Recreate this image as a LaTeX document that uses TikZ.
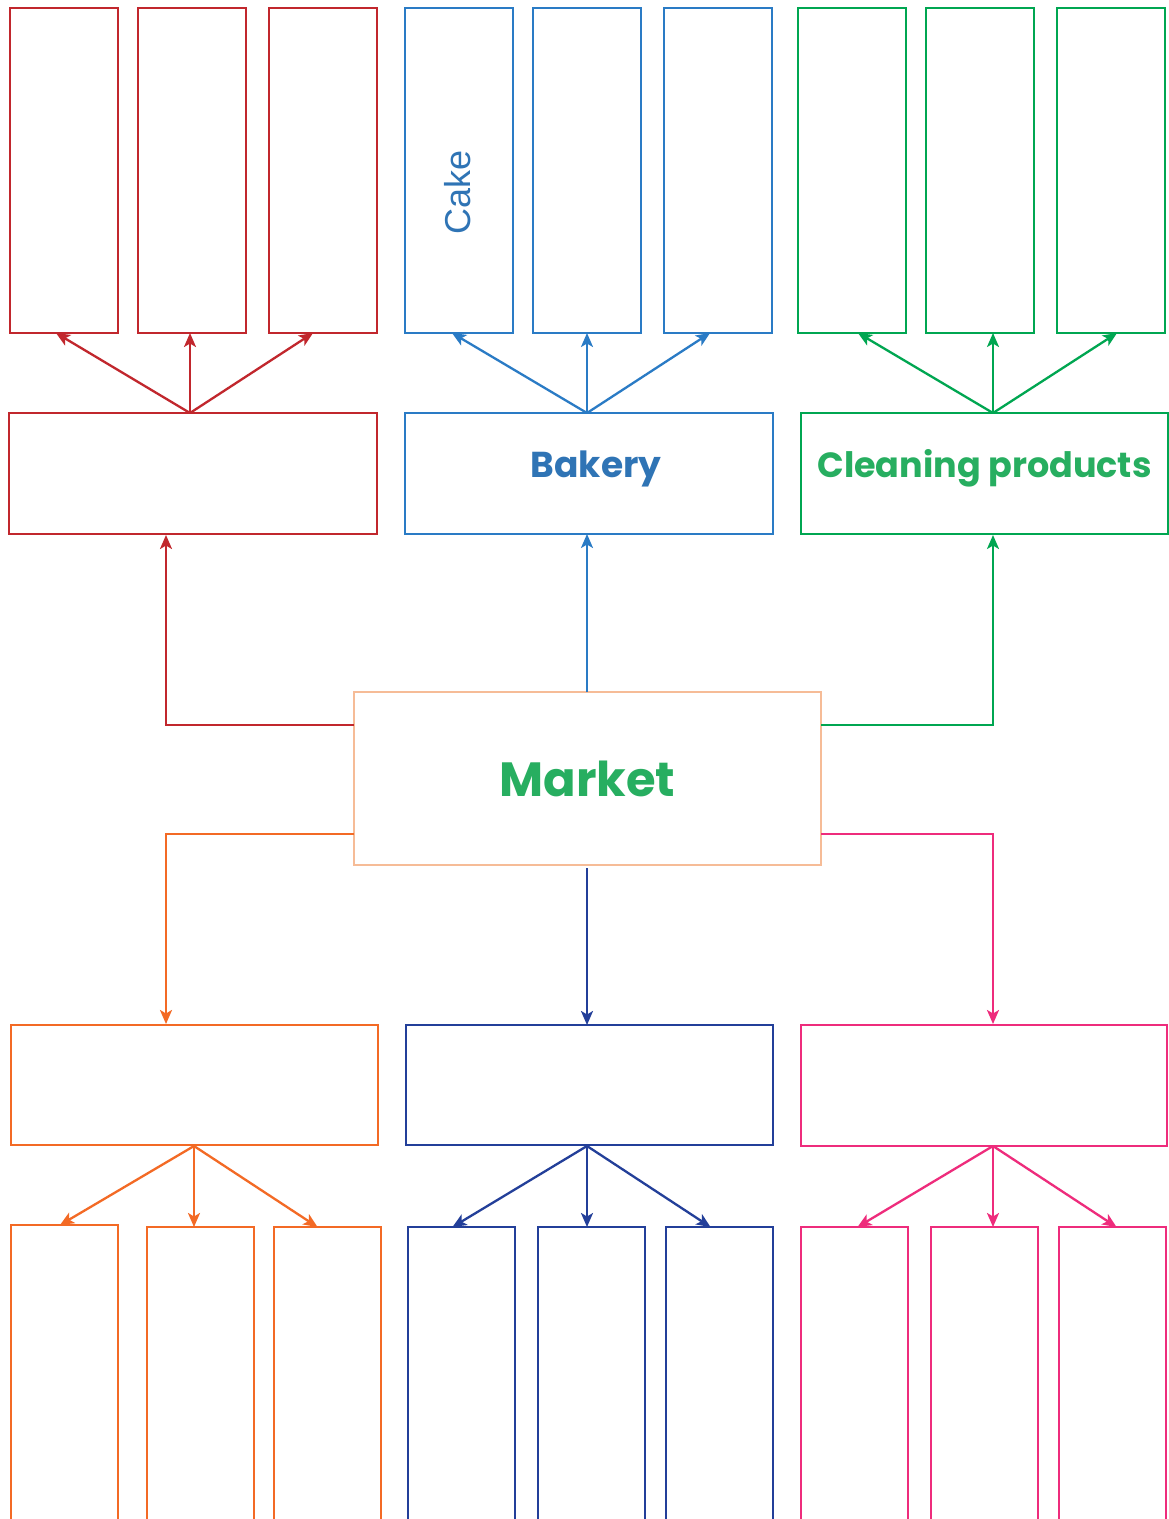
\documentclass[tikz,border=0pt]{standalone}
\usepackage{fontspec}
\newfontfamily\popfont{Poppins}
\newfontfamily\arialfont{Liberation Sans}
\usetikzlibrary{arrows.meta}
\definecolor{cred}{HTML}{C1272D}
\definecolor{cblue}{HTML}{2A7BC5}
\definecolor{cbluetext}{HTML}{2F74B5}
\definecolor{cgreen}{HTML}{00A651}
\definecolor{cgreentext}{HTML}{27AE60}
\definecolor{cpeach}{HTML}{F6BC97}
\definecolor{corange}{HTML}{F36A25}
\definecolor{cnavy}{HTML}{233F99}
\definecolor{cpink}{HTML}{EE2C7C}
\tikzset{
  every node/.style={outer sep=0pt},
  tallbox/.style={draw=#1, line width=2.3pt, anchor=north west, minimum width=108pt, minimum height=325pt, inner sep=0pt},
  lowbox/.style={draw=#1, line width=2.3pt, anchor=north west, minimum width=107pt, minimum height=320pt, inner sep=0pt},
  midbox/.style={draw=#1, line width=2.3pt, anchor=north west, minimum width=368pt, minimum height=121pt, inner sep=0pt},
  conn/.style={draw=#1, line width=2.3pt, -{Stealth[length=14pt,width=12pt,inset=3.5pt]}},
  heading/.style={font=\popfont\bfseries\fontsize{36}{40}\selectfont, text=#1},
}
\begin{document}
\begin{tikzpicture}[x=1pt,y=-1pt]
\clip (0,0) rectangle (1169,1519);
\fill[white] (0,0) rectangle (1169,1519);
% top tall boxes
\node[tallbox=cred] (r1) at (10,8) {};
\node[tallbox=cred] (r2) at (138,8) {};
\node[tallbox=cred] (r3) at (269,8) {};
\node[tallbox=cblue] (b1) at (405,8) {};
\node[tallbox=cblue] (b2) at (533,8) {};
\node[tallbox=cblue] (b3) at (664,8) {};
\node[tallbox=cgreen] (g1) at (798,8) {};
\node[tallbox=cgreen] (g2) at (926,8) {};
\node[tallbox=cgreen] (g3) at (1057,8) {};
\node[rotate=90, font=\arialfont\fontsize{36}{40}\selectfont, text=cbluetext] (cake) at (458,192) {Cake};
% middle upper boxes
\node[midbox=cred] (R) at (9,413) {};
\node[midbox=cblue, label={[heading=cbluetext, shift={(7,-5)}]center:Bakery}] (B) at (405,413) {};
\node[midbox=cgreen, minimum width=367pt, label={[heading=cgreentext, font=\popfont\bfseries\fontsize{35}{40}\selectfont, shift={(0,-5)}]center:Cleaning products}] (G) at (801,413) {};
% market
\node[draw=cpeach, line width=2.3pt, anchor=north west, minimum width=467pt, minimum height=173pt, font=\popfont\bfseries\fontsize{48}{52}\selectfont, text=cgreentext] (M) at (354,692) {Market};
% lower middle boxes
\node[midbox=corange, minimum width=367pt, minimum height=120pt] (O) at (11,1025) {};
\node[midbox=cnavy, minimum width=367pt, minimum height=120pt] (N) at (406,1025) {};
\node[midbox=cpink, minimum width=366pt] (P) at (801,1025) {};
% bottom tall boxes
\node[lowbox=corange] (o1) at (11,1225) {};
\node[lowbox=corange] (o2) at (147,1227) {};
\node[lowbox=corange] (o3) at (274,1227) {};
\node[lowbox=cnavy] (n1) at (408,1227) {};
\node[lowbox=cnavy] (n2) at (538,1227) {};
\node[lowbox=cnavy] (n3) at (666,1227) {};
\node[lowbox=cpink] (p1) at (801,1227) {};
\node[lowbox=cpink] (p2) at (931,1227) {};
\node[lowbox=cpink] (p3) at (1059,1227) {};
% top fan arrows
\coordinate (Rt) at (190,413);
\coordinate (Bt) at (587,413);
\coordinate (Gt) at (993,413);
\draw[conn=cred] (Rt) -- ([xshift=-8pt]r1.south);
\draw[conn=cred] (Rt) -- (Rt |- r2.south);
\draw[conn=cred] (Rt) -- ([xshift=-10pt]r3.south);
\draw[conn=cblue] (Bt) -- ([xshift=-7pt]b1.south);
\draw[conn=cblue] (Bt) -- (Bt |- b2.south);
\draw[conn=cblue] (Bt) -- ([xshift=-8pt]b3.south);
\draw[conn=cgreen] (Gt) -- ([xshift=6pt]g1.south);
\draw[conn=cgreen] (Gt) -- (Gt |- g2.south);
\draw[conn=cgreen] (Gt) -- ([xshift=6pt]g3.south);
% market connectors
\coordinate (Mr) at (354,725);
\coordinate (Mg) at (821,725);
\coordinate (Mo) at (354,834);
\coordinate (Mp) at (821,834);
\coordinate (Mt) at (587,692);
\coordinate (Mb) at (587,868);
\draw[conn=cred] (Mr) -- (166,725) -- (166,535);
\draw[conn=cblue] (Mt) -- (Mt |- B.south);
\draw[conn=cgreen] (Mg) -- (993,725) -- (993,535);
\draw[conn=corange] (Mo) -- (166,834) -- (166,1024);
\draw[conn=cnavy] (Mb) -- (Mb |- N.north);
\draw[conn=cpink] (Mp) -- (993,834) -- (993,1024);
% bottom fan arrows
\coordinate (Ob) at (194,1146);
\coordinate (Nb) at (587,1146);
\coordinate (Pb) at (993,1146);
\draw[conn=corange] (Ob) -- (60,1225);
\draw[conn=corange] (Ob) -- (Ob |- o2.north);
\draw[conn=corange] (Ob) -- ([xshift=-10pt]o3.north);
\draw[conn=cnavy] (Nb) -- ([xshift=-9pt]n1.north);
\draw[conn=cnavy] (Nb) -- (Nb |- n2.north);
\draw[conn=cnavy] (Nb) -- ([xshift=-9pt]n3.north);
\draw[conn=cpink] (Pb) -- ([xshift=3pt]p1.north);
\draw[conn=cpink] (Pb) -- (Pb |- p2.north);
\draw[conn=cpink] (Pb) -- ([xshift=4pt]p3.north);
\end{tikzpicture}
\end{document}
